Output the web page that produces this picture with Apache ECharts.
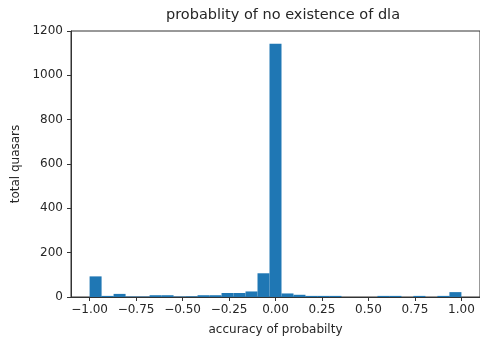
<!DOCTYPE html>
<html>
<head>
<meta charset="utf-8">
<script src="https://cdn.jsdelivr.net/npm/echarts@6/dist/echarts.min.js"></script>
<style>
  html, body { margin: 0; padding: 0; background: #fff; }
  #chart { width: 480px; height: 341px; }
</style>
</head>
<body>
<div id="chart"></div>
<script>
// histogram counts, 31 equal bins between -1 and 1
const counts = [93, 5, 14, 2, 2, 8, 8, 2, 3, 8, 8, 18, 18, 25, 107, 1143,
  16, 10, 5, 5, 5, 0, 0, 0, 5, 5, 0, 5, 0, 5, 22]
const binRange = [-1, 1]
const xTicks = [-1, -0.75, -0.5, -0.25, 0, 0.25, 0.5, 0.75, 1]
const yTicks = [0, 200, 400, 600, 800, 1000, 1200]

const binWidth = (binRange[1] - binRange[0]) / counts.length
const bins = counts.map((c, i) => [binRange[0] + i * binWidth, binRange[0] + (i + 1) * binWidth, c])

const textColor = '#262626'
const lineColor = '#333'
const fontFamily = 'DejaVu Sans'

const chart = echarts.init(document.getElementById('chart'))
chart.setOption({
  animation: false,
  title: {
    text: 'probablity of no existence of dla',
    left: 278,
    textAlign: 'center',
    top: 3,
    textStyle: { fontSize: 14.5, fontWeight: 'normal', color: textColor, fontFamily: fontFamily }
  },
  grid: {
    left: 71,
    right: -6,
    top: 31,
    bottom: 41,
    show: true,
    borderColor: lineColor,
    borderWidth: 1,
    backgroundColor: 'transparent'
  },
  xAxis: {
    type: 'value',
    min: -1.1,
    max: 1.1,
    name: 'accuracy of probabilty',
    nameLocation: 'middle',
    nameGap: 27,
    nameTextStyle: { fontSize: 12, color: textColor, fontFamily: fontFamily },
    splitLine: { show: false },
    axisLine: { onZero: false, lineStyle: { color: lineColor } },
    axisTick: { length: 4, customValues: xTicks, lineStyle: { color: lineColor } },
    axisLabel: {
      customValues: xTicks,
      margin: 7,
      fontSize: 12,
      color: textColor,
      fontFamily: fontFamily,
      formatter: v => (v < 0 ? '\u2212' : '') + Math.abs(v).toFixed(2)
    }
  },
  yAxis: {
    type: 'value',
    min: yTicks[0],
    max: yTicks[yTicks.length - 1],
    interval: 200,
    name: 'total quasars',
    nameLocation: 'middle',
    nameGap: 47,
    nameTextStyle: { fontSize: 12, color: textColor, fontFamily: fontFamily },
    splitLine: { show: false },
    axisLine: { show: true, onZero: false, lineStyle: { color: lineColor } },
    axisTick: { show: true, length: 4, lineStyle: { color: lineColor } },
    axisLabel: {
      margin: 8,
      fontSize: 12,
      color: textColor,
      fontFamily: fontFamily,
      formatter: v => String(v)
    }
  },
  series: [{
    type: 'custom',
    data: bins,
    encode: { x: [0, 1], y: 2 },
    renderItem: (params, api) => {
      const p0 = api.coord([api.value(0), api.value(2)])
      const p1 = api.coord([api.value(1), 0])
      return {
        type: 'rect',
        shape: { x: p0[0], y: p0[1], width: p1[0] - p0[0], height: p1[1] - p0[1] },
        style: { fill: '#1f77b4' }
      }
    }
  }]
})
</script>
</body>
</html>
